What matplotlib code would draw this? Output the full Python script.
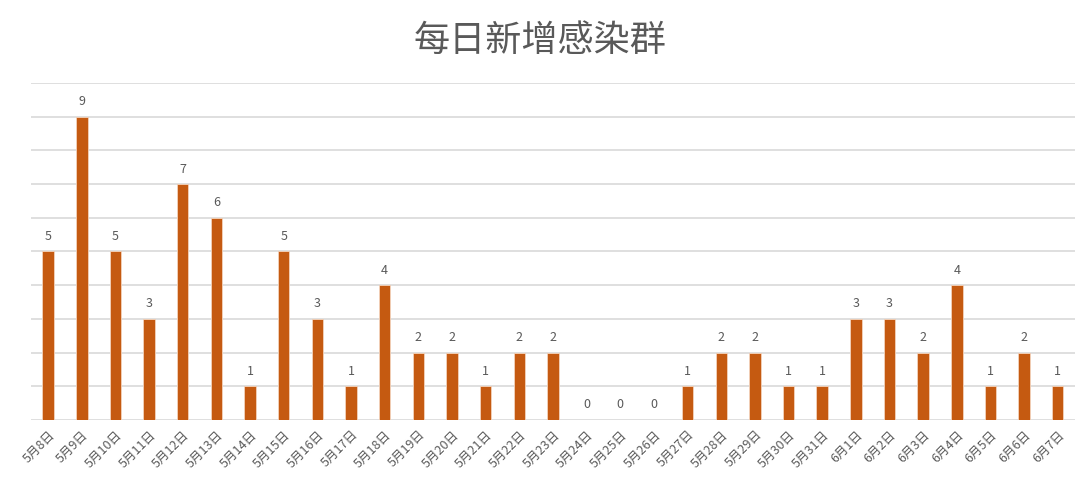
import matplotlib.pyplot as plt

plt.rcParams['font.family'] = ['Noto Sans CJK SC', 'DejaVu Sans']

# 日期和每日新增感染群数量
dates = ['5月%d日' % d for d in range(8, 32)] + ['6月%d日' % d for d in range(1, 8)]
clusters = [5, 9, 5, 3, 7, 6, 1, 5, 3, 1, 4, 2, 2, 1, 2, 2, 0, 0, 0,
            1, 2, 2, 1, 1, 3, 3, 2, 4, 1, 2, 1]
title = '每日新增感染群'

bar_color = '#C55A11'
text_color = '#595959'

fig = plt.figure(figsize=(10.8, 4.94), dpi=100)
ax = fig.add_axes([0.029, 0.15, 0.966, 0.682])

x = range(len(dates))
bars = ax.bar(x, clusters, width=0.34, color=bar_color, edgecolor='#F4D3BC',
              linewidth=0.6, zorder=3)
for i, v in zip(x, clusters):
    ax.text(i, v + 0.25, str(v), ha='center', va='bottom', fontsize=9,
            color=text_color)

ax.set_xlim(-0.5, len(dates) - 0.5)
ax.set_ylim(0, 10)
ax.set_yticks(range(0, 11))
ax.set_yticklabels([])
ax.tick_params(axis='y', length=0)
ax.grid(axis='y', color='#D9D9D9', linewidth=1.2, zorder=0)
ax.set_xticks(list(x))
ax.set_xticklabels(dates, rotation=45, ha='right', rotation_mode='anchor',
                   fontsize=9, color=text_color)
ax.tick_params(axis='x', length=0, pad=6)
for s in ax.spines.values():
    s.set_visible(False)

fig.text(0.5, 0.918, title, ha='center', va='center', fontsize=26,
         color=text_color)

fig.savefig('out.png', dpi=100, facecolor='white')
